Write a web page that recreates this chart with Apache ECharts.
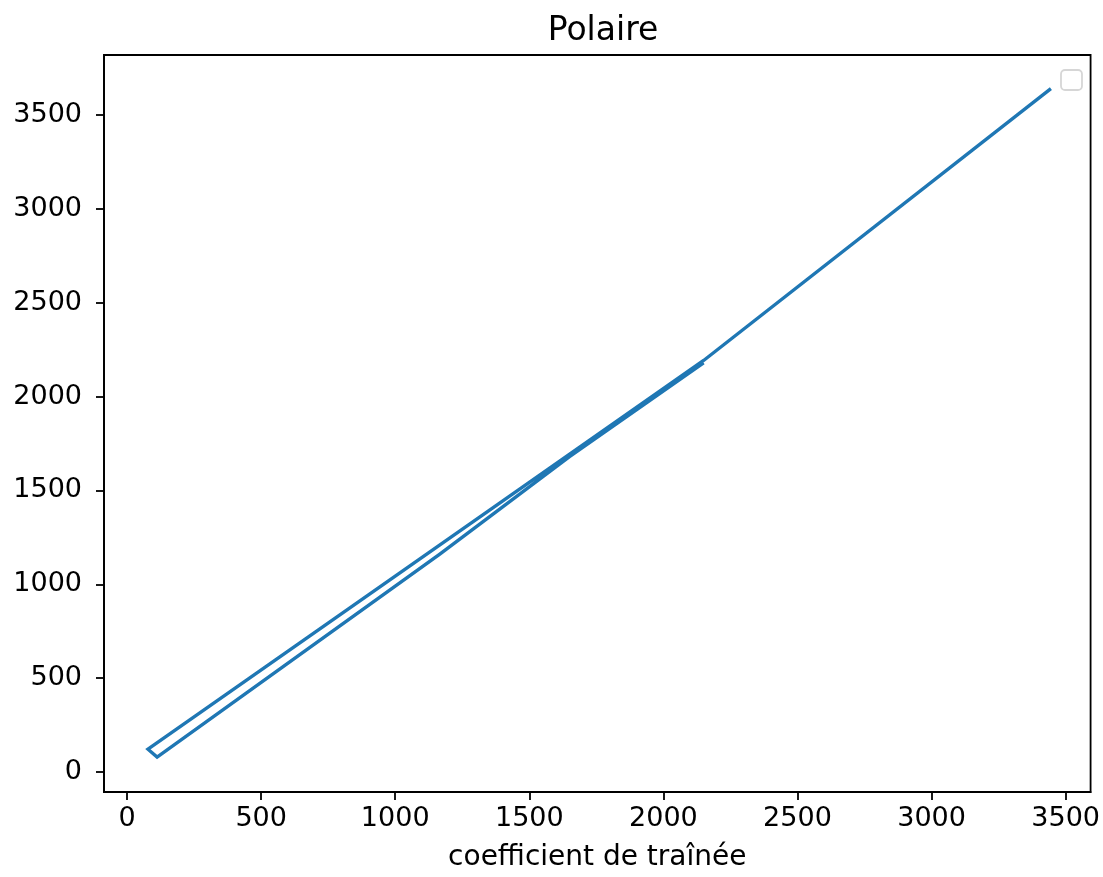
<!DOCTYPE html>
<html>
<head>
<meta charset="utf-8">
<script src="https://cdn.jsdelivr.net/npm/echarts@6/dist/echarts.min.js"></script>
<style>
  html, body { margin: 0; padding: 0; background: #fff; }
  #chart { width: 1103px; height: 877px; }
</style>
</head>
<body>
<div id="chart"></div>
<script>
// Drag polar: traversed path (drag coefficient, lift coefficient)
const dragValues = [2150, 1650, 1165, 112, 78, 2150, 3445];
const liftValues = [2180, 1680, 1160, 80, 122, 2192, 3640];

// Tick positions and labels
const xTicks = [0, 500, 1000, 1500, 2000, 2500, 3000, 3500];
const yTicks = [0, 500, 1000, 1500, 2000, 2500, 3000, 3500];

const titleText = 'Polaire';
const xAxisName = 'coefficient de traînée';

const points = dragValues.map((x, i) => [x, liftValues[i]]);

const FONT = 'DejaVu Sans';
const plain = v => String(v);
const chart = echarts.init(document.getElementById('chart'), null, { renderer: 'canvas' });

chart.setOption({
  animation: false,
  backgroundColor: '#ffffff',
  title: {
    text: titleText,
    left: 598,
    textAlign: 'center',
    top: 10,
    textStyle: { fontFamily: FONT, fontSize: 33, fontWeight: 'normal', color: '#000' }
  },
  grid: {
    left: 104, right: 11, top: 55, bottom: 84,
    show: true, borderColor: '#000', borderWidth: 1.8, backgroundColor: 'transparent'
  },
  xAxis: {
    type: 'value',
    min: -86, max: 3593,
    name: xAxisName,
    nameLocation: 'middle',
    nameGap: 52,
    nameTextStyle: { fontFamily: FONT, fontSize: 28, color: '#000' },
    axisLine: { show: true, onZero: false, lineStyle: { color: '#000', width: 1.8 } },
    axisTick: { show: true, length: 8, customValues: xTicks, lineStyle: { color: '#000', width: 1.8 } },
    axisLabel: { customValues: xTicks, formatter: plain, fontFamily: FONT, fontSize: 27, color: '#000', margin: 13 },
    splitLine: { show: false }
  },
  yAxis: {
    type: 'value',
    min: -106, max: 3819,
    axisLine: { show: true, onZero: false, lineStyle: { color: '#000', width: 1.8 } },
    axisTick: { show: true, length: 8, customValues: yTicks, lineStyle: { color: '#000', width: 1.8 } },
    axisLabel: { customValues: yTicks, formatter: plain, fontFamily: FONT, fontSize: 27, color: '#000', margin: 22 },
    splitLine: { show: false }
  },
  series: [{
    type: 'line',
    data: points,
    showSymbol: false,
    lineStyle: { color: '#1f77b4', width: 3.4, join: 'miter' },
    itemStyle: { color: '#1f77b4' }
  }],
  graphic: [{
    type: 'rect',
    shape: { x: 1061, y: 70, width: 21, height: 20, r: 4 },
    style: { fill: '#ffffff', stroke: '#d6d6d6', lineWidth: 1.8 }
  }]
});
</script>
</body>
</html>
